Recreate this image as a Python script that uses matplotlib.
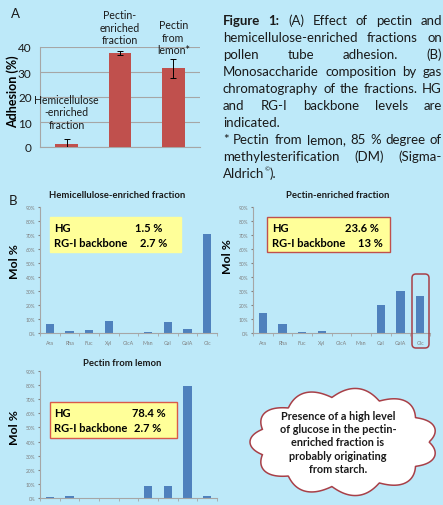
import numpy as np
import matplotlib.pyplot as plt
from matplotlib.patches import FancyBboxPatch, Polygon

W, H = 443, 506
BG = '#bde9f9'
RED = '#c0504d'
BLUE = '#4f81bd'
FONT = 'Lato'
plt.rcParams['font.family'] = [FONT, 'DejaVu Sans']

# panel A - adhesion
adh_labels = ['Hemicellulose\n-enriched\nfraction', 'Pectin-\nenriched\nfraction', 'Pectin\nfrom\nlemon*']
adh_values = [1.1, 37.7, 31.5]
adh_err = [2.0, 0.8, 3.8]

# panel B - monosaccharide composition (mol %)
sugars = ['Ara', 'Rha', 'Fuc', 'Xyl', 'GlcA', 'Man', 'Gal', 'GalA', 'Glc']
hemi_mol = [6.7, 1.2, 1.9, 8.6, 0.0, 1.0, 7.9, 2.6, 70.5]
pectin_mol = [14.5, 6.2, 0.5, 1.7, 0.0, 0.2, 19.8, 29.8, 26.4]
lemon_mol = [0.7, 1.6, 0.0, 0.0, 0.0, 8.3, 8.7, 79.5, 1.6]
hg_level = ['1.5 %', '23.6 %', '78.4 %']
rg_level = ['2.7 %', '13 %', '2.7 %']

caption = [
    ([('Figure', True), ('1:', True), ('(A)', False), ('Effect', False), ('of', False), ('pectin', False), ('and', False)], True),
    ([(w, False) for w in 'hemicellulose-enriched fractions on'.split()], True),
    ([(w, False) for w in 'pollen tube adhesion. (B)'.split()], True),
    ([(w, False) for w in 'Monosaccharide composition by gas'.split()], True),
    ([(w, False) for w in 'chromatography of the fractions. HG'.split()], True),
    ([(w, False) for w in 'and RG-I backbone levels are'.split()], True),
    ([(w, False) for w in 'indicated.'.split()], False),
    ([(w, False) for w in '* Pectin from lemon, 85 % degree of'.split()], True),
    ([(w, False) for w in 'methylesterification (DM) (Sigma-'.split()], True),
]
cloud_text = 'Presence of a high level\nof glucose in the pectin-\nenriched fraction is\nprobably originating\nfrom starch.'


def px(l, t, r, b):
    return [l / W, 1 - b / H, (r - l) / W, (b - t) / H]


fig = plt.figure(figsize=(W / 100, H / 100), dpi=100, facecolor=BG)

# ---- panel A
axA = fig.add_axes(px(40, 48, 200, 148))
axA.patch.set_alpha(0)
x = np.arange(len(adh_values))
axA.bar(x, adh_values, width=0.42, color=RED, zorder=3)
axA.errorbar(x, adh_values, yerr=adh_err, fmt='none', ecolor='black', elinewidth=0.7, capsize=2, capthick=0.7, zorder=4)
axA.set_xlim(-0.5, 2.5)
axA.set_ylim(0, 40)
axA.set_yticks([0, 10, 20, 30, 40])
axA.set_xticks([])
axA.yaxis.grid(True, color='#a6a6a6', lw=0.8, zorder=0)
for s in ['top', 'right']:
    axA.spines[s].set_visible(False)
axA.spines['left'].set_color('#a6a6a6')
axA.spines['bottom'].set_color('#a6a6a6')
axA.tick_params(axis='y', length=0, labelsize=8.5, colors='#1a1a1a', pad=6)
label_y = [14, 48, 44]
for i, lab in enumerate(adh_labels):
    axA.text(i, label_y[i], lab, ha='center', va='center', fontsize=7.6,
             color='#1a1a1a', linespacing=1.15, clip_on=False, zorder=5)


# ---- panel B
def mol_axes(rect, values):
    ax = fig.add_axes(px(*rect))
    ax.patch.set_alpha(0)
    ax.bar(np.arange(len(values)), values, width=0.42, color=BLUE)
    ax.set_xlim(-0.5, len(values) - 0.5)
    ax.set_ylim(0, 90)
    ax.set_yticks(range(0, 91, 10))
    ax.set_yticklabels([f'{v}%' for v in range(0, 91, 10)])
    ax.set_xticks(np.arange(len(sugars)))
    ax.set_xticklabels(sugars)
    ax.set_xticks(np.arange(-0.5, len(sugars)), minor=True)
    ax.tick_params(axis='x', which='major', length=0, pad=5, labelsize=3.8, colors='#7f7f7f')
    ax.tick_params(axis='x', which='minor', length=2, color='#a6a6a6')
    ax.tick_params(axis='y', length=1.5, pad=2, labelsize=3.5, colors='#7f7f7f')
    for s in ['top', 'right']:
        ax.spines[s].set_visible(False)
    ax.spines['left'].set_color('#a6a6a6')
    ax.spines['bottom'].set_color('#a6a6a6')
    return ax


mol_axes((40, 208, 217, 334), hemi_mol)
mol_axes((253, 208, 430, 334), pectin_mol)
mol_axes((40, 372, 217, 499), lemon_mol)

# ---- overlay in pixel units for annotations
ov = fig.add_axes([0, 0, 1, 1], zorder=10)
ov.set_xlim(0, W)
ov.set_ylim(H, 0)
ov.axis('off')
ov.patch.set_alpha(0)

ov.text(11, 14, 'A', fontsize=9.5, va='center', ha='left', color='#1a1a1a')
ov.text(9, 201, 'B', fontsize=9.5, va='center', ha='left', color='#1a1a1a')
ov.text(13, 92, 'Adhesion (%)', fontsize=9, fontweight='bold', rotation=90, ha='center', va='center')

titles = [('Hemicellulose-enriched fraction', 117, 195),
          ('Pectin-enriched fraction', 338, 195),
          ('Pectin from lemon', 122, 363)]
for t, tx, ty in titles:
    ov.text(tx, ty, t, fontsize=6.8, fontweight='bold', ha='center', va='center', color='#1a1a1a')
for mx, my in [(15, 262), (228, 257), (15, 428)]:
    ov.text(mx, my, 'Mol %', fontsize=8.8, fontweight='bold', rotation=90, ha='center', va='center')

# summary boxes
boxes = [((50, 218, 181, 253), None, 54, 135, 140),
         ((267, 218, 390, 253), '#c0504d', 272, 345, 358),
         ((50, 403, 177, 439), '#d9594a', 54, 132, 134)]
for i, ((l, t, r, b), ec, tx, vx1, vx2) in enumerate(boxes):
    ov.add_patch(FancyBboxPatch((l, t), r - l, b - t, boxstyle='square,pad=0',
                                fc='#ffff99', ec=ec if ec else '#ffff99', lw=1.0))
    y1 = t + (b - t) * 0.30
    y2 = t + (b - t) * 0.72
    ov.text(tx, y1, 'HG', fontsize=8.0, fontweight='bold', va='center')
    ov.text(tx, y2, 'RG-I backbone', fontsize=8.0, fontweight='bold', va='center')
    ov.text(vx1, y1, hg_level[i], fontsize=8.0, fontweight='bold', va='center')
    ov.text(vx2, y2, rg_level[i], fontsize=8.0, fontweight='bold', va='center')

# highlight around glucose of pectin-enriched fraction
ov.add_patch(FancyBboxPatch((412, 275), 17, 74, boxstyle='round,pad=0,rounding_size=4',
                            fc='none', ec='#a84048', lw=1.1))

# cloud
cx, cy, rx, ry = 344, 443, 85, 45
t = np.linspace(0, 2 * np.pi, 800)
bump = 9 * np.abs(np.sin(5.5 * t))
xs = cx + (rx + bump) * np.cos(t)
ys = cy + (ry + bump) * np.sin(t)
ov.add_patch(Polygon(np.column_stack([xs, ys]), closed=True, fc='white', ec='#a84048', lw=1.1))
ov.text(cx - 6, cy, cloud_text, fontsize=7.8, fontweight='bold', ha='center', va='center',
        linespacing=1.25, color='#1a1a1a')

# justified caption
renderer = fig.canvas.get_renderer()
x0, x1, y0, dy, fs = 223, 442, 21, 17, 9.5
for i, (words, justify) in enumerate(caption):
    y = y0 + i * dy
    texts = [ov.text(0, y, w, fontsize=fs, fontweight='bold' if b else 'normal',
                     va='center', ha='left', color='#1a1a1a') for w, b in words]
    widths = [tt.get_window_extent(renderer).width for tt in texts]
    if justify and len(texts) > 1:
        gap = (x1 - x0 - sum(widths)) / (len(texts) - 1)
    else:
        gap = 3.5
    xp = x0
    for tt, w in zip(texts, widths):
        tt.set_x(xp)
        xp += w + gap
y = y0 + len(caption) * dy
a = ov.text(x0, y, 'Aldrich', fontsize=fs, va='center', color='#1a1a1a')
aw = a.get_window_extent(renderer).width
ov.text(x0 + aw + 0.5, y - 4, '\u00a9', fontsize=4.5, va='center', color='#1a1a1a')
ov.text(x0 + aw + 5, y, ').', fontsize=fs, va='center', color='#1a1a1a')

fig.savefig('out.png', dpi=100, facecolor=BG)
